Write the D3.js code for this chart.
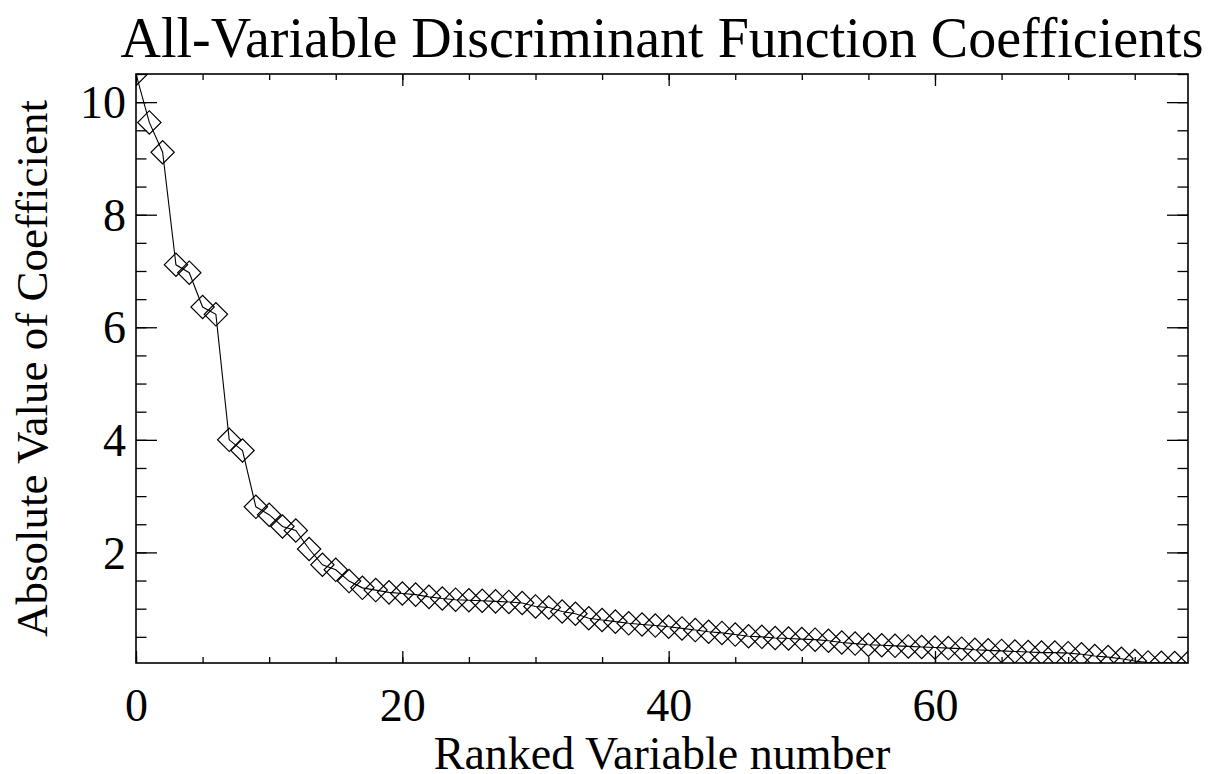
<!DOCTYPE html>
<html>
<head>
<meta charset="utf-8">
<script src="https://cdn.jsdelivr.net/npm/d3@7"></script>
<style>
  html, body { margin: 0; padding: 0; background: #fff; }
  svg { display: block; }
  svg text { font-family: "Liberation Serif", "DejaVu Serif", "Times New Roman", Times, serif !important; fill: #000; }
</style>
</head>
<body>
<svg id="chart" width="1225" height="774"></svg>
<script>
// ---- data ----
const rankIndex = d3.range(0, 80);
const coefficientValues = [
  10.50, 9.64, 9.11, 7.11, 6.97, 6.36, 6.23, 4.00, 3.81, 2.81,
  2.67, 2.46, 2.39, 2.06, 1.78, 1.69, 1.49, 1.37, 1.33, 1.29,
  1.27, 1.25, 1.21, 1.18, 1.16, 1.15, 1.14, 1.13, 1.12, 1.10,
  1.04, 1.02, 0.95, 0.91, 0.83, 0.80, 0.77, 0.74, 0.72, 0.70,
  0.68, 0.65, 0.62, 0.59, 0.57, 0.54, 0.51, 0.50, 0.48, 0.47,
  0.46, 0.45, 0.43, 0.40, 0.38, 0.36, 0.35, 0.34, 0.33, 0.32,
  0.31, 0.30, 0.29, 0.27, 0.26, 0.25, 0.24, 0.23, 0.22, 0.22,
  0.21, 0.19, 0.16, 0.14, 0.11, 0.07, 0.045, 0.04, 0.035, 0.035
];
const xMajorTicks = [0, 20, 40, 60];
const xMinorTicks = d3.range(0, 80, 5);
const yMajorTicks = [2, 4, 6, 8, 10];
const yMinorTicks = d3.range(0.5, 10.51, 0.5);
const titleText = "All-Variable Discriminant Function Coefficients";
const xTitleText = "Ranked Variable number";
const yTitleText = "Absolute Value of Coefficient";

// ---- layout ----
const FONT = "'Liberation Serif', 'DejaVu Serif', 'Times New Roman', Times, serif";
const pL = 136, pR = 1188, pT = 74, pB = 663;
const svg = d3.select("#chart").attr("font-family", FONT);

const x = d3.scaleLinear().domain([0, 79]).range([pL, pR]);
const y = d3.scaleLinear().domain([0.035, 10.5]).range([pB, pT]);

const yMajLen = 21, yMinLen = 10.5, xMajLen = 12, xMinLen = 6;

// clip
svg.append("defs").append("clipPath").attr("id", "clip")
  .append("rect").attr("x", pL).attr("y", pT)
  .attr("width", pR - pL).attr("height", pB - pT);

function styleAxis(g) {
  g.attr("font-family", FONT);
  g.select(".domain").remove();
  g.selectAll(".tick line").attr("stroke", "#000").attr("stroke-width", 1.3);
}

// bottom minor + major
svg.append("g").attr("transform", `translate(0,${pB})`)
  .call(d3.axisBottom(x).tickValues(xMinorTicks).tickSize(-xMinLen).tickFormat(""))
  .call(styleAxis);
const xb = svg.append("g").attr("transform", `translate(0,${pB})`)
  .call(d3.axisBottom(x).tickValues(xMajorTicks).tickSize(-xMajLen).tickPadding(0).tickFormat(d3.format("d")))
  .call(styleAxis);
xb.selectAll(".tick text").attr("y", 58).attr("dy", null)
  .attr("font-size", 46).attr("fill", "#000");

// top minor + major
svg.append("g").attr("transform", `translate(0,${pT})`)
  .call(d3.axisTop(x).tickValues(xMinorTicks).tickSize(-xMinLen).tickFormat(""))
  .call(styleAxis);
svg.append("g").attr("transform", `translate(0,${pT})`)
  .call(d3.axisTop(x).tickValues(xMajorTicks).tickSize(-xMajLen).tickFormat(""))
  .call(styleAxis);

// left minor + major
svg.append("g").attr("transform", `translate(${pL},0)`)
  .call(d3.axisLeft(y).tickValues(yMinorTicks).tickSize(-yMinLen).tickFormat(""))
  .call(styleAxis);
const yl = svg.append("g").attr("transform", `translate(${pL},0)`)
  .call(d3.axisLeft(y).tickValues(yMajorTicks).tickSize(-yMajLen).tickPadding(10).tickFormat(d3.format("d")))
  .call(styleAxis);
yl.selectAll(".tick text").attr("x", -10).attr("dy", "0.34em")
  .attr("font-size", 46).attr("fill", "#000");

// right minor + major
svg.append("g").attr("transform", `translate(${pR},0)`)
  .call(d3.axisRight(y).tickValues(yMinorTicks).tickSize(-yMinLen).tickFormat(""))
  .call(styleAxis);
svg.append("g").attr("transform", `translate(${pR},0)`)
  .call(d3.axisRight(y).tickValues(yMajorTicks).tickSize(-yMajLen).tickFormat(""))
  .call(styleAxis);

// frame
svg.append("rect").attr("x", pL).attr("y", pT)
  .attr("width", pR - pL).attr("height", pB - pT)
  .attr("fill", "none").attr("stroke", "#000").attr("stroke-width", 1.6);

// data line + markers
const pts = rankIndex.map((r, i) => ({ r, v: coefficientValues[i] }));
const plot = svg.append("g").attr("clip-path", "url(#clip)");
plot.append("path").datum(pts)
  .attr("d", d3.line().x(d => x(d.r)).y(d => y(d.v)))
  .attr("fill", "none").attr("stroke", "#000").attr("stroke-width", 1.1);

const diamond = d3.symbol().type(d3.symbolSquare).size(272);
plot.selectAll(".pt").data(pts).join("path")
  .attr("class", "pt")
  .attr("d", diamond)
  .attr("transform", d => `translate(${x(d.r)},${y(d.v)}) rotate(45)`)
  .attr("fill", "none").attr("stroke", "#000").attr("stroke-width", 1.2);

// titles
svg.append("text").attr("x", (pL + pR) / 2).attr("y", 57)
  .attr("text-anchor", "middle").attr("font-size", 56).text(titleText);
svg.append("text").attr("x", (pL + pR) / 2).attr("y", 769)
  .attr("text-anchor", "middle").attr("font-size", 46).text(xTitleText);
svg.append("text")
  .attr("transform", `translate(47,${(pT + pB) / 2}) rotate(-90)`)
  .attr("text-anchor", "middle").attr("font-size", 45).text(yTitleText);
</script>
</body>
</html>
